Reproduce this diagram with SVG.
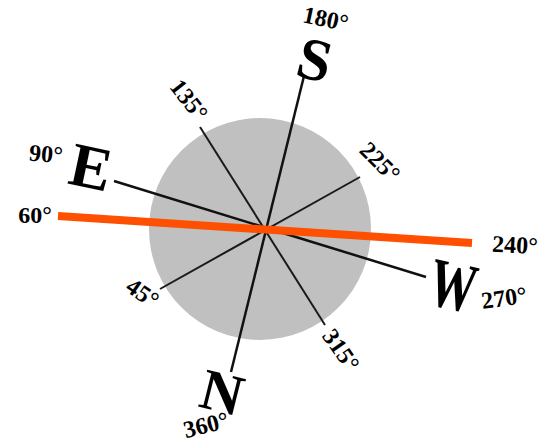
<svg xmlns="http://www.w3.org/2000/svg" width="545" height="443" viewBox="0 0 545 443">
<style>
.big{font-family:"Liberation Serif",serif;font-weight:bold;fill:#000}
.deg{font-family:"Liberation Serif",serif;font-weight:bold;fill:#000;font-size:24px}
.ax{stroke:#111;stroke-width:2.5;fill:none}
.dg{stroke:#1a1a1a;stroke-width:2;fill:none}
</style>
<rect width="545" height="443" fill="#fff"/>
<g id="disc"><circle cx="260" cy="229" r="111" fill="#c0c0c0"/></g>
<g id="connectors">
<line class="ax" x1="304" y1="76" x2="231" y2="372"/>
<line class="ax" x1="114" y1="181" x2="426" y2="277"/>
<line class="dg" x1="200" y1="127" x2="325" y2="325"/>
<line class="dg" x1="360" y1="177" x2="160" y2="289"/>
<line x1="58" y1="216" x2="472" y2="243" stroke="#ff4f00" stroke-width="8"/>
</g>
<g id="S"><text class="big" font-size="60" text-anchor="middle" transform="translate(315,59) rotate(14)" y="21">S</text></g>
<g id="E"><text class="big" font-size="62" text-anchor="middle" transform="translate(91,167) rotate(12)" y="21">E</text></g>
<g id="W"><text class="big" font-size="58" text-anchor="middle" transform="translate(453,286) rotate(12) scale(0.8,1.2)" y="19">W</text></g>
<g id="N"><text class="big" font-size="58" text-anchor="middle" transform="translate(222,393) rotate(14)" y="19">N</text></g>
<g id="d180"><text class="deg" font-size="26" text-anchor="middle" transform="translate(326,18) rotate(12)" y="9">180°</text></g>
<g id="d135"><text class="deg" text-anchor="middle" transform="translate(189,100) rotate(52)" y="8">135°</text></g>
<g id="d225"><text class="deg" text-anchor="middle" transform="translate(380,162) rotate(45)" y="8">225°</text></g>
<g id="d90"><text class="deg" text-anchor="middle" transform="translate(46,154) rotate(5)" y="8">90°</text></g>
<g id="d60"><text class="deg" font-size="21" text-anchor="middle" transform="translate(35,216)" y="7">60°</text></g>
<g id="d240"><text class="deg" text-anchor="middle" transform="translate(515,245) rotate(3)" y="8">240°</text></g>
<g id="d270"><text class="deg" text-anchor="middle" transform="translate(504,298) rotate(-8)" y="8">270°</text></g>
<g id="d45"><text class="deg" font-size="22" text-anchor="middle" transform="translate(142,294) rotate(35)" y="7">45°</text></g>
<g id="d315"><text class="deg" text-anchor="middle" transform="translate(341,350) rotate(55)" y="8">315°</text></g>
<g id="d360"><text class="deg" font-size="25" text-anchor="middle" transform="translate(206,425) rotate(-14)" y="8">360°</text></g>
</svg>
